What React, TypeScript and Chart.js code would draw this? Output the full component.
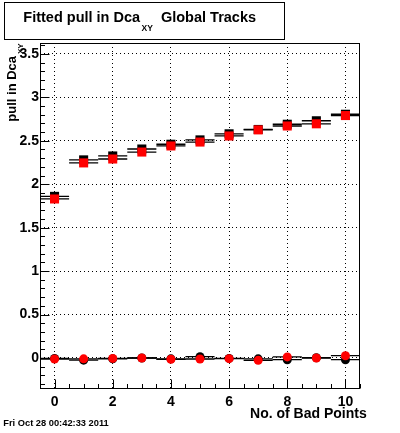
import React, { useEffect, useRef } from "react";
import { Chart, registerables } from "chart.js";

Chart.register(...registerables);

// ---- data ----
const badPoints = [0, 1, 2, 3, 4, 5, 6, 7, 8, 9, 10];
const pullBlackHigh = [1.86, 2.28, 2.325, 2.405, 2.46, 2.51, 2.58, 2.63, 2.69, 2.73, 2.805];
const pullRedHigh = [1.83, 2.245, 2.29, 2.37, 2.44, 2.485, 2.555, 2.625, 2.67, 2.695, 2.79];
const pullBlackLow = [-0.005, -0.025, -0.01, 0.0, -0.01, 0.015, -0.005, -0.01, -0.02, 0.003, -0.02];
const pullRedLow = [-0.012, -0.01, -0.005, 0.0, -0.015, -0.012, -0.008, -0.027, 0.012, 0.0, 0.026];
const xTickLabels = [0, 2, 4, 6, 8, 10];
const yTickLabels = [0, 0.5, 1, 1.5, 2, 2.5, 3, 3.5];
const titleMain = "Fitted pull in Dca";
const titleSub = "XY";
const titleRest = "Global Tracks";
const yTitle = "pull in Dca";
const xTitle = "No. of Bad Points";
const dateText = "Fri Oct 28 00:42:33 2011";

const X_MIN = -0.5;
const X_MAX = 10.5;
const Y_MIN = -0.357;
const Y_MAX = 3.625;
const FONT = "'Liberation Sans', Arial, Helvetica, sans-serif";

const pts = (vals: number[]) => vals.map((v, i) => ({ x: badPoints[i], y: v }));
const hBars = (vals: number[]) => {
  const out: { x: number; y: number | null }[] = [];
  vals.forEach((v, i) => {
    out.push({ x: badPoints[i] - 0.5, y: v });
    out.push({ x: badPoints[i] + 0.5, y: v });
    out.push({ x: badPoints[i] + 0.5, y: null });
  });
  return out;
};

const rootPlugin = {
  id: "rootDecor",
  afterDraw(chart: any) {
    const ctx = chart.ctx as CanvasRenderingContext2D;
    const { left, right, top, bottom } = chart.chartArea;
    const xs = chart.scales.x;
    const ys = chart.scales.y;
    ctx.save();
    ctx.strokeStyle = "#000";
    ctx.lineWidth = 1;
    // frame
    ctx.strokeRect(left + 0.5, top + 0.5, right - left - 1, bottom - top - 1);
    // x ticks
    ctx.beginPath();
    for (let k = 0; k <= 22; k++) {
      const v = X_MIN + k * 0.5;
      const px = Math.round(xs.getPixelForValue(v)) + 0.5;
      const major = Math.abs(v / 2 - Math.round(v / 2)) < 1e-6;
      const len = major ? 9 : 4.5;
      ctx.moveTo(px, bottom - 0.5);
      ctx.lineTo(px, bottom - 0.5 - len);
    }
    // y ticks
    for (let k = -3; k <= 36; k++) {
      const v = k * 0.1;
      const py = Math.round(ys.getPixelForValue(v)) + 0.5;
      const major = k % 5 === 0;
      const len = major ? 9 : 4.5;
      ctx.moveTo(left + 0.5, py);
      ctx.lineTo(left + 0.5 + len, py);
    }
    ctx.stroke();

    // title box
    ctx.fillStyle = "#fff";
    ctx.fillRect(4.5, 2.5, 280, 37);
    ctx.strokeRect(4.5, 2.5, 280, 37);
    ctx.fillStyle = "#000";
    ctx.textBaseline = "alphabetic";
    ctx.textAlign = "left";
    ctx.font = `bold 14.5px ${FONT}`;
    ctx.fillText(titleMain, 23.3, 21.7);
    const w1 = ctx.measureText(titleMain).width;
    ctx.font = `bold 8.5px ${FONT}`;
    ctx.fillText(titleSub, 23.3 + w1 + 1.5, 31);
    const w2 = ctx.measureText(titleSub).width;
    ctx.font = `bold 14.5px ${FONT}`;
    ctx.fillText(titleRest, 23.3 + w1 + 1.5 + w2 + 8, 21.7);

    // y title
    ctx.save();
    ctx.translate(16, 121.7);
    ctx.rotate(-Math.PI / 2);
    ctx.font = `bold 13px ${FONT}`;
    ctx.fillText(yTitle, 0, 0);
    const wy = ctx.measureText(yTitle).width;
    ctx.font = `bold 8px ${FONT}`;
    ctx.fillText(titleSub, wy + 2, 7);
    ctx.restore();

    // x title
    ctx.font = `bold 14px ${FONT}`;
    ctx.textAlign = "right";
    ctx.fillText(xTitle, 366.7, 417.5);

    // date
    ctx.font = `bold 9.3px ${FONT}`;
    ctx.textAlign = "left";
    ctx.fillText(dateText, 3.3, 425.5);
    ctx.restore();
  },
};

export default function App() {
  const canvasRef = useRef<HTMLCanvasElement | null>(null);

  useEffect(() => {
    document.body.style.margin = "0";
    const canvas = canvasRef.current!;
    const chart = new Chart(canvas, {
      type: "scatter",
      data: {
        datasets: [
          {
            label: "red high",
            data: pts(pullRedHigh),
            pointStyle: "rect",
            pointRadius: 6.4,
            backgroundColor: "#ff0000",
            borderWidth: 0,
            showLine: false,
            order: 0,
          },
          {
            label: "red low",
            data: pts(pullRedLow),
            pointStyle: "circle",
            pointRadius: 4.5,
            backgroundColor: "#ff0000",
            borderWidth: 0,
            showLine: false,
            order: 0,
          },
          {
            label: "black high",
            data: pts(pullBlackHigh),
            pointStyle: "rect",
            pointRadius: 6.4,
            backgroundColor: "#000000",
            borderWidth: 0,
            showLine: false,
            order: 1,
          },
          {
            label: "black low",
            data: pts(pullBlackLow),
            pointStyle: "circle",
            pointRadius: 4.5,
            backgroundColor: "#000000",
            borderWidth: 0,
            showLine: false,
            order: 1,
          },
          ...[pullBlackHigh, pullRedHigh, pullBlackLow, pullRedLow].map((vals, i) => ({
            label: "bars" + i,
            type: "line" as const,
            data: hBars(vals),
            borderColor: "#000",
            borderWidth: 1.3,
            pointRadius: 0,
            spanGaps: false,
            fill: false,
            tension: 0,
            order: 2,
          })),
        ],
      } as any,
      options: {
        responsive: false,
        animation: false,
        devicePixelRatio: 1,
        layout: { padding: { top: 43, right: 40, left: 0, bottom: 0 } },
        plugins: { legend: { display: false }, tooltip: { enabled: false }, title: { display: false } },
        scales: {
          x: {
            type: "linear",
            min: X_MIN,
            max: X_MAX,
            afterBuildTicks: (s: any) => {
              s.ticks = xTickLabels.map((v) => ({ value: v }));
            },
            afterFit: (s: any) => {
              s.height = 44;
            },
            grid: { color: "#000", lineWidth: 1, drawTicks: false },
            border: { display: false, dash: [1, 3] },
            ticks: {
              color: "#000",
              padding: 5,
              font: { family: FONT, size: 14, weight: "bold" },
              callback: (v: any) => String(v),
              maxRotation: 0,
              autoSkip: false,
            },
          },
          y: {
            type: "linear",
            min: Y_MIN,
            max: Y_MAX,
            afterBuildTicks: (s: any) => {
              s.ticks = yTickLabels.map((v) => ({ value: v }));
            },
            afterFit: (s: any) => {
              s.width = 40;
            },
            grid: { color: "#000", lineWidth: 1, drawTicks: false },
            border: { display: false, dash: [1, 3] },
            ticks: {
              color: "#000",
              padding: 1,
              font: { family: FONT, size: 14, weight: "bold" },
              callback: (v: any) => String(v),
              autoSkip: false,
            },
          },
        },
      } as any,
      plugins: [rootPlugin],
    });
    return () => chart.destroy();
  }, []);

  return (
    <div style={{ position: "absolute", left: 0, top: 0, width: 400, height: 433, background: "#fff" }}>
      <canvas ref={canvasRef} width={400} height={433} style={{ display: "block", width: 400, height: 433 }} />
    </div>
  );
}
